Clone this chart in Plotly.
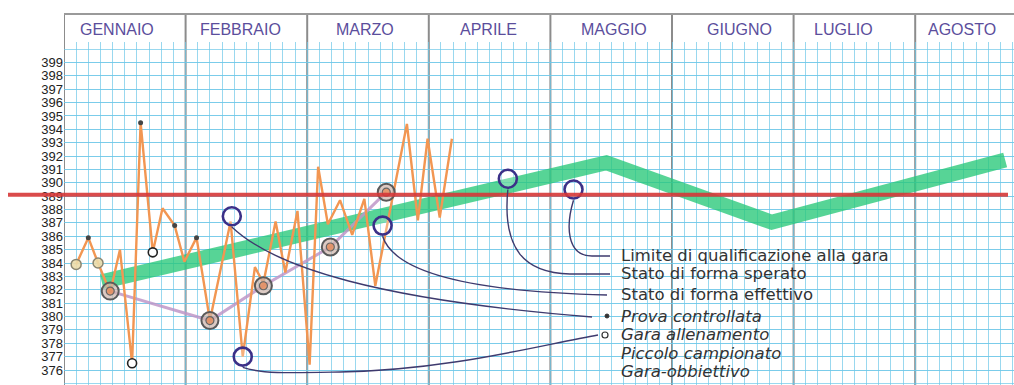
import plotly.graph_objects as go

# ---------------- data ----------------
months = ["GENNAIO", "FEBBRAIO", "MARZO", "APRILE", "MAGGIO", "GIUGNO", "LUGLIO", "AGOSTO"]
y_ticks = list(range(376, 400))

# training results (x = months elapsed since 1 January)
prova_x = [0.10, 0.20, 0.28, 0.38, 0.46, 0.56, 0.63, 0.73, 0.81, 0.91, 0.99, 1.09,
           1.20, 1.37, 1.47, 1.57, 1.64, 1.74, 1.82, 1.92, 2.02, 2.09, 2.17, 2.27,
           2.37, 2.47, 2.56, 2.82, 2.91, 2.99, 3.09, 3.19]
prova_y = [383.9, 385.9, 384.0, 381.8, 385.0, 376.5, 394.5, 384.8, 388.1, 386.8, 384.1, 385.9,
           379.7, 387.1, 377.0, 383.7, 382.5, 387.1, 383.3, 387.9, 376.4, 391.2, 386.9, 388.7,
           386.1, 388.8, 382.3, 394.4, 387.2, 393.3, 387.4, 393.3]

# actual form (stato di forma effettivo)
effettivo_x = [0.38, 1.20, 1.64, 2.19, 2.65]
effettivo_y = [381.9, 379.7, 382.3, 385.2, 389.3]

# hoped-for form (stato di forma sperato)
sperato_x = [0.31, 4.46, 5.82, 7.74]
sperato_y = [382.6, 391.5, 387.05, 391.7]

# qualification limit
limite = 389.1

# highlighted points (blue rings)
evid_x = [1.38, 1.47, 2.62, 3.65, 4.19]
evid_y = [387.5, 377.0, 386.8, 390.3, 389.5]

# training races (open circles) and controlled trials (dots)
gara_x = [0.56, 0.73]
gara_y = [376.5, 384.8]
controllo_x = [0.20, 0.63, 0.91, 1.09]
controllo_y = [385.9, 394.5, 386.8, 385.9]
inizio_x = [0.10, 0.28]
inizio_y = [383.9, 384.0]

legend_lines = ["Limite di qualificazione alla gara", "Stato di forma sperato",
                "Stato di forma effettivo"]
legend_italic = ["Prova controllata", "Gara allenamento", "Piccolo campionato",
                 "Gara-obbiettivo"]

# ---------------- geometry helpers ----------------
W, H = 1014, 385
ML, MT = 64, 42
MONTH_PX = 121.6
UNIT_PX = 13.37
X_MAX = (W - ML) / MONTH_PX
Y_TOP = 376 + (370 - MT) / UNIT_PX
Y_BOT = 376 - (H - 370) / UNIT_PX


def dx(px):
    return (px - ML) / MONTH_PX


def dy(py):
    return 376 + (370 - py) / UNIT_PX


def paper_x(px):
    return (px - ML) / (W - ML)


def paper_y(py):
    return (H - py) / (H - MT)


ORANGE = "rgb(242,150,82)"
NAVY = "#3b3088"
LEADER = "#3e3a6e"
FONT = "Liberation Sans"
LEG_FONT = "DejaVu Sans"
GRID = "rgba(110,200,232,0.7)"

fig = go.Figure()

# hoped-for form band
fig.add_trace(go.Scatter(x=sperato_x, y=sperato_y, mode="lines",
                         line=dict(color="rgba(40,200,120,0.78)", width=15),
                         hoverinfo="skip", showlegend=False))

# actual form line
fig.add_trace(go.Scatter(x=effettivo_x, y=effettivo_y, mode="lines",
                         line=dict(color="rgba(190,150,200,0.85)", width=3),
                         hoverinfo="skip", showlegend=False))

# training results
fig.add_trace(go.Scatter(x=prova_x, y=prova_y, mode="lines",
                         line=dict(color=ORANGE, width=2.4),
                         hoverinfo="skip", showlegend=False))

# first open markers
fig.add_trace(go.Scatter(x=inizio_x, y=inizio_y, mode="markers",
                         marker=dict(size=10, color="rgba(235,220,170,0.9)",
                                     line=dict(color="#8a8570", width=1.5)),
                         hoverinfo="skip", showlegend=False))

# controlled trials
fig.add_trace(go.Scatter(x=controllo_x, y=controllo_y, mode="markers",
                         marker=dict(size=5, color="#444"),
                         hoverinfo="skip", showlegend=False))

# training races
fig.add_trace(go.Scatter(x=gara_x, y=gara_y, mode="markers",
                         marker=dict(size=9, color="white",
                                     line=dict(color="#222", width=1.6)),
                         hoverinfo="skip", showlegend=False))

# actual-form rings
fig.add_trace(go.Scatter(x=effettivo_x, y=effettivo_y, mode="markers",
                         marker=dict(size=17, color="rgba(205,180,170,0.7)",
                                     line=dict(color="#5a5a5a", width=2)),
                         hoverinfo="skip", showlegend=False))
fig.add_trace(go.Scatter(x=effettivo_x, y=effettivo_y, mode="markers",
                         marker=dict(size=8, color="rgba(230,140,90,0.8)",
                                     line=dict(color="#666", width=1.2)),
                         hoverinfo="skip", showlegend=False))

# highlighted blue rings
fig.add_trace(go.Scatter(x=evid_x, y=evid_y, mode="markers",
                         marker=dict(size=18, color="rgba(255,255,255,0.25)",
                                     line=dict(color=NAVY, width=2.6)),
                         hoverinfo="skip", showlegend=False))

shapes = []

# qualification limit line (runs across the tick labels)
shapes.append(dict(type="line", xref="paper", yref="y",
                   x0=paper_x(8), x1=paper_x(1008), y0=limite, y1=limite,
                   line=dict(color="rgba(214,55,55,0.9)", width=4), layer="above"))

# month dividers, extending into the header band
for i in range(len(months)):
    shapes.append(dict(type="line", xref="x", yref="paper",
                       x0=i, x1=i, y0=0, y1=paper_y(14),
                       line=dict(color="#8c8c8c", width=2), layer="below"))
# header top border
shapes.append(dict(type="line", xref="paper", yref="paper",
                   x0=0, x1=1, y0=paper_y(14), y1=paper_y(14),
                   line=dict(color="#9a9a9a", width=2)))


# leader lines from the highlighted rings to the legend text
def path_from(x0, y0, pts):
    s = f"M {x0},{y0}"
    for seg in pts:
        s += " C " + " ".join(f"{dx(a)},{dy(b)}" for a, b in seg)
    return s


leader_specs = [
    (4, [[(566, 225), (566, 256), (592, 256)], [(600, 256), (605, 256), (610, 256)]]),
    (3, [[(502, 250), (525, 273), (570, 274)], [(590, 274), (600, 274), (610, 274)]]),
    (2, [[(395, 275), (480, 292), (607, 295)]]),
    (0, [[(275, 268), (380, 300), (592, 317)]]),
    (1, [[(262, 374), (290, 373), (340, 372)], [(450, 370), (540, 345), (598, 335)]]),
]
for idx, segs in leader_specs:
    x0 = evid_x[idx]
    y0 = evid_y[idx] - 0.8
    shapes.append(dict(type="path", xref="x", yref="y",
                       path=path_from(x0, y0, segs),
                       line=dict(color=LEADER, width=1.4)))

annotations = []
centers = [117, 240, 365, 488, 614, 739, 843, 962]
for i, m in enumerate(months):
    annotations.append(dict(xref="paper", yref="paper", x=paper_x(centers[i]),
                            y=paper_y(30), yanchor="middle", xanchor="center",
                            text=m, showarrow=False,
                            font=dict(family=FONT, size=16, color="#5b4e9c")))

legend_rows = [255, 273, 294]
for t, ry in zip(legend_lines, legend_rows):
    annotations.append(dict(xref="paper", yref="paper", x=paper_x(619), y=paper_y(ry),
                            xanchor="left", yanchor="middle", text=t, showarrow=False,
                            font=dict(family=LEG_FONT, size=16.5, color="#333")))
italic_rows = [316, 334, 353, 371]
for t, ry in zip(legend_italic, italic_rows):
    annotations.append(dict(xref="paper", yref="paper", x=paper_x(619), y=paper_y(ry),
                            xanchor="left", yanchor="middle", text=f"<i>{t}</i>",
                            showarrow=False,
                            font=dict(family=LEG_FONT, size=16.5, color="#333")))

# legend symbols
shapes.append(dict(type="circle", xref="paper", yref="paper",
                   x0=paper_x(605), x1=paper_x(609), y0=paper_y(318), y1=paper_y(314),
                   fillcolor="#333", line=dict(color="#333", width=1)))
shapes.append(dict(type="circle", xref="paper", yref="paper",
                   x0=paper_x(602), x1=paper_x(608), y0=paper_y(338), y1=paper_y(332),
                   fillcolor="white", line=dict(color="#333", width=1.2)))

fig.update_layout(
    width=W, height=H,
    margin=dict(l=ML, r=0, t=MT, b=0),
    paper_bgcolor="white", plot_bgcolor="white",
    shapes=shapes, annotations=annotations,
    xaxis=dict(range=[0, X_MAX], dtick=0.1, tick0=0, showticklabels=False,
               showgrid=True, gridcolor=GRID, gridwidth=1,
               zeroline=False, showline=False, fixedrange=True),
    yaxis=dict(range=[Y_BOT, Y_TOP], tickmode="array", tickvals=y_ticks,
               ticktext=[str(v) for v in y_ticks], ticks="", ticklen=0,
               tickfont=dict(family=FONT, size=13, color="#222"),
               showgrid=True, gridcolor=GRID, gridwidth=1,
               minor=dict(dtick=1, tick0=0, showgrid=True, gridcolor=GRID),
               zeroline=False, showline=False, fixedrange=True),
    showlegend=False,
)

fig.write_html("out.html")
